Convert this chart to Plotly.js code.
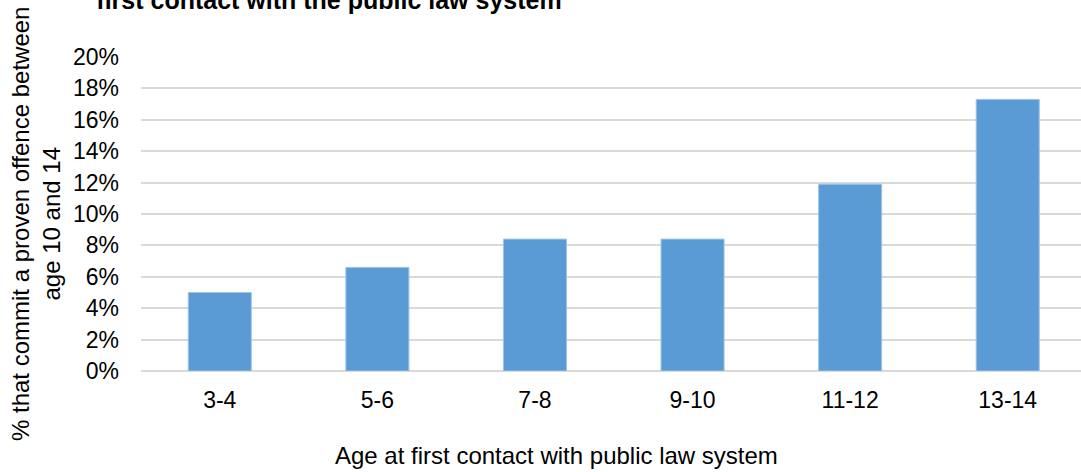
<!DOCTYPE html>
<html>
<head>
<meta charset="utf-8">
<script src="https://cdn.plot.ly/plotly-3.0.1.min.js"></script>
<style>html,body{margin:0;padding:0;background:#fff;}#chart{width:1081px;height:472px;}</style>
</head>
<body>
<div id="chart"></div>
<script>
const categories = ["3-4", "5-6", "7-8", "9-10", "11-12", "13-14"];
const values = [0.050, 0.066, 0.084, 0.084, 0.119, 0.173];
const yTickVals = [0, 0.02, 0.04, 0.06, 0.08, 0.10, 0.12, 0.14, 0.16, 0.18, 0.20];
const yTickText = ["0%", "2%", "4%", "6%", "8%", "10%", "12%", "14%", "16%", "18%", "20%"];
const titleText = "first contact with the public law system";
const yTitleText = "% that commit a proven offence between<br>age 10 and 14";
const xTitleText = "Age at first contact with public law system";

const FONT = "Arial, 'Liberation Sans', sans-serif";

const data = [{
  type: "bar",
  x: categories,
  y: values,
  width: 0.4,
  marker: {color: "#5B9BD5", line: {color: "#9DC3E6", width: 1}},
  hoverinfo: "skip"
}];

const layout = {
  width: 1081, height: 472,
  margin: {l: 141, r: 0, t: 57, b: 101, pad: 0},
  paper_bgcolor: "#ffffff", plot_bgcolor: "#ffffff",
  showlegend: false,
  font: {family: FONT, size: 23, color: "#000000"},
  title: {
    text: "<b>" + titleText + "</b>",
    font: {family: FONT, size: 25, color: "#000000"},
    x: 329 / 1081, xanchor: "center",
    y: 1, yanchor: "middle", yref: "container"
  },
  xaxis: {
    type: "category",
    range: [-0.5, 5.465],
    showgrid: false, zeroline: false, showline: false,
    ticks: "", ticklabelstandoff: 13,
    tickfont: {family: FONT, size: 23, color: "#000000"}
  },
  yaxis: {
    range: [0, 0.2],
    tickvals: yTickVals, ticktext: yTickText,
    showgrid: true, gridcolor: "#d9d9d9", gridwidth: 2,
    zeroline: true, zerolinecolor: "#d9d9d9", zerolinewidth: 2,
    showline: false, ticks: "", ticklabelstandoff: 21,
    tickfont: {family: FONT, size: 23, color: "#000000"}
  },
  annotations: [
    {
      text: yTitleText, textangle: -90,
      xref: "paper", yref: "paper",
      x: (36 - 141) / 940, y: (371 - 224) / 314,
      xanchor: "center", yanchor: "middle",
      showarrow: false, align: "center",
      font: {family: FONT, size: 24, color: "#000000"}
    },
    {
      text: xTitleText,
      xref: "paper", yref: "paper",
      x: (556 - 141) / 940, y: (371 - 455) / 314,
      xanchor: "center", yanchor: "middle",
      showarrow: false,
      font: {family: FONT, size: 24, color: "#000000"}
    }
  ]
};

Plotly.newPlot("chart", data, layout, {displayModeBar: false, staticPlot: true});
</script>
</body>
</html>
